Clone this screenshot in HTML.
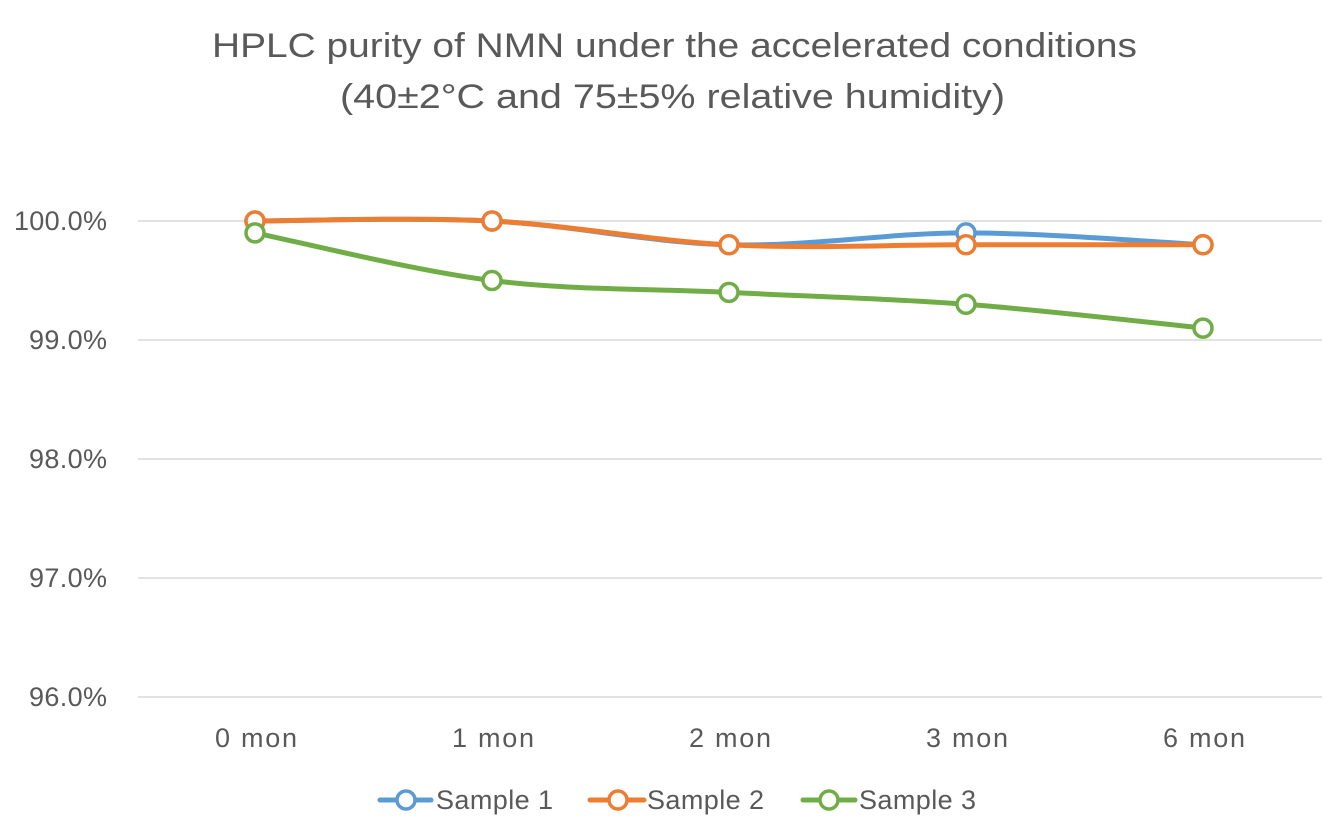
<!DOCTYPE html>
<html><head><meta charset="utf-8"><style>
html,body{margin:0;padding:0;background:#fff;}
svg{display:block;font-family:"Liberation Sans",sans-serif;}
</style></head><body>
<svg width="1340" height="832" viewBox="0 0 1340 832" xmlns="http://www.w3.org/2000/svg">
<rect width="1340" height="832" fill="#fff"/>
<text x="212" y="57" font-size="34" fill="#595959" textLength="925" lengthAdjust="spacingAndGlyphs">HPLC purity of NMN under the accelerated conditions</text>
<text x="340" y="108" font-size="34" fill="#595959" textLength="665" lengthAdjust="spacingAndGlyphs">(40±2°C and 75±5% relative humidity)</text>
<g stroke="#d9d9d9" stroke-width="1.5">
<line x1="138" x2="1322" y1="221" y2="221"/>
<line x1="138" x2="1322" y1="340" y2="340"/>
<line x1="138" x2="1322" y1="459" y2="459"/>
<line x1="138" x2="1322" y1="578" y2="578"/>
<line x1="138" x2="1322" y1="697" y2="697"/>
</g>
<g font-size="27" fill="#595959" lengthAdjust="spacingAndGlyphs">
<text x="14" y="230" textLength="93">100.0%</text>
<text x="29" y="349" textLength="78">99.0%</text>
<text x="29" y="468" textLength="78">98.0%</text>
<text x="29" y="587" textLength="78">97.0%</text>
<text x="29" y="706" textLength="78">96.0%</text>
</g>
<g font-size="27" fill="#595959" lengthAdjust="spacingAndGlyphs">
<text x="215" y="747" textLength="82">0 mon</text>
<text x="452" y="747" textLength="82">1 mon</text>
<text x="689" y="747" textLength="82">2 mon</text>
<text x="926" y="747" textLength="82">3 mon</text>
<text x="1163" y="747" textLength="82">6 mon</text>
</g>
<g fill="none" stroke-width="5" stroke-linecap="round">
<path stroke="#5B9BD5" d="M255,221 C294.5,221 413,217 492,221 C571,225 650,242.8 729,244.8 C808,246.8 887,232.9 966,232.9 C1045,232.9 1163.5,242.8 1203,244.8"/>
<path stroke="#ED7D31" d="M255,221 C294.5,221 413,217 492,221 C571,225 650,240.8 729,244.8 C808,248.8 887,244.8 966,244.8 C1045,244.8 1163.5,244.8 1203,244.8"/>
<path stroke="#70AD47" d="M255,232.9 C294.5,240.8 413,270.6 492,280.5 C571,290.4 650,288.4 729,292.4 C808,296.4 887,298.35 966,304.3 C1045,310.25 1163.5,324.1 1203,328.1"/>
</g>
<g fill="#fff" stroke-width="3.5">
<g stroke="#5B9BD5">
<circle cx="255" cy="221" r="9"/><circle cx="492" cy="221" r="9"/><circle cx="729" cy="244.8" r="9"/><circle cx="966" cy="232.9" r="9"/><circle cx="1203" cy="244.8" r="9"/>
</g>
<g stroke="#ED7D31">
<circle cx="255" cy="221" r="9"/><circle cx="492" cy="221" r="9"/><circle cx="729" cy="244.8" r="9"/><circle cx="966" cy="244.8" r="9"/><circle cx="1203" cy="244.8" r="9"/>
</g>
<g stroke="#70AD47">
<circle cx="255" cy="232.9" r="9"/><circle cx="492" cy="280.5" r="9"/><circle cx="729" cy="292.4" r="9"/><circle cx="966" cy="304.3" r="9"/><circle cx="1203" cy="328.1" r="9"/>
</g>
</g>
<g stroke-width="5" stroke-linecap="round">
<line x1="380" x2="431" y1="800" y2="800" stroke="#5B9BD5"/>
<circle cx="406" cy="800" r="9" fill="#fff" stroke="#5B9BD5" stroke-width="3.5"/>
<line x1="590" x2="644" y1="800" y2="800" stroke="#ED7D31"/>
<circle cx="618" cy="800" r="9" fill="#fff" stroke="#ED7D31" stroke-width="3.5"/>
<line x1="803" x2="855" y1="800" y2="800" stroke="#70AD47"/>
<circle cx="829" cy="800" r="9" fill="#fff" stroke="#70AD47" stroke-width="3.5"/>
</g>
<g font-size="27" fill="#595959" lengthAdjust="spacingAndGlyphs">
<text x="436" y="809" textLength="117">Sample 1</text>
<text x="647" y="809" textLength="117">Sample 2</text>
<text x="859" y="809" textLength="117">Sample 3</text>
</g>
</svg>
</body></html>
